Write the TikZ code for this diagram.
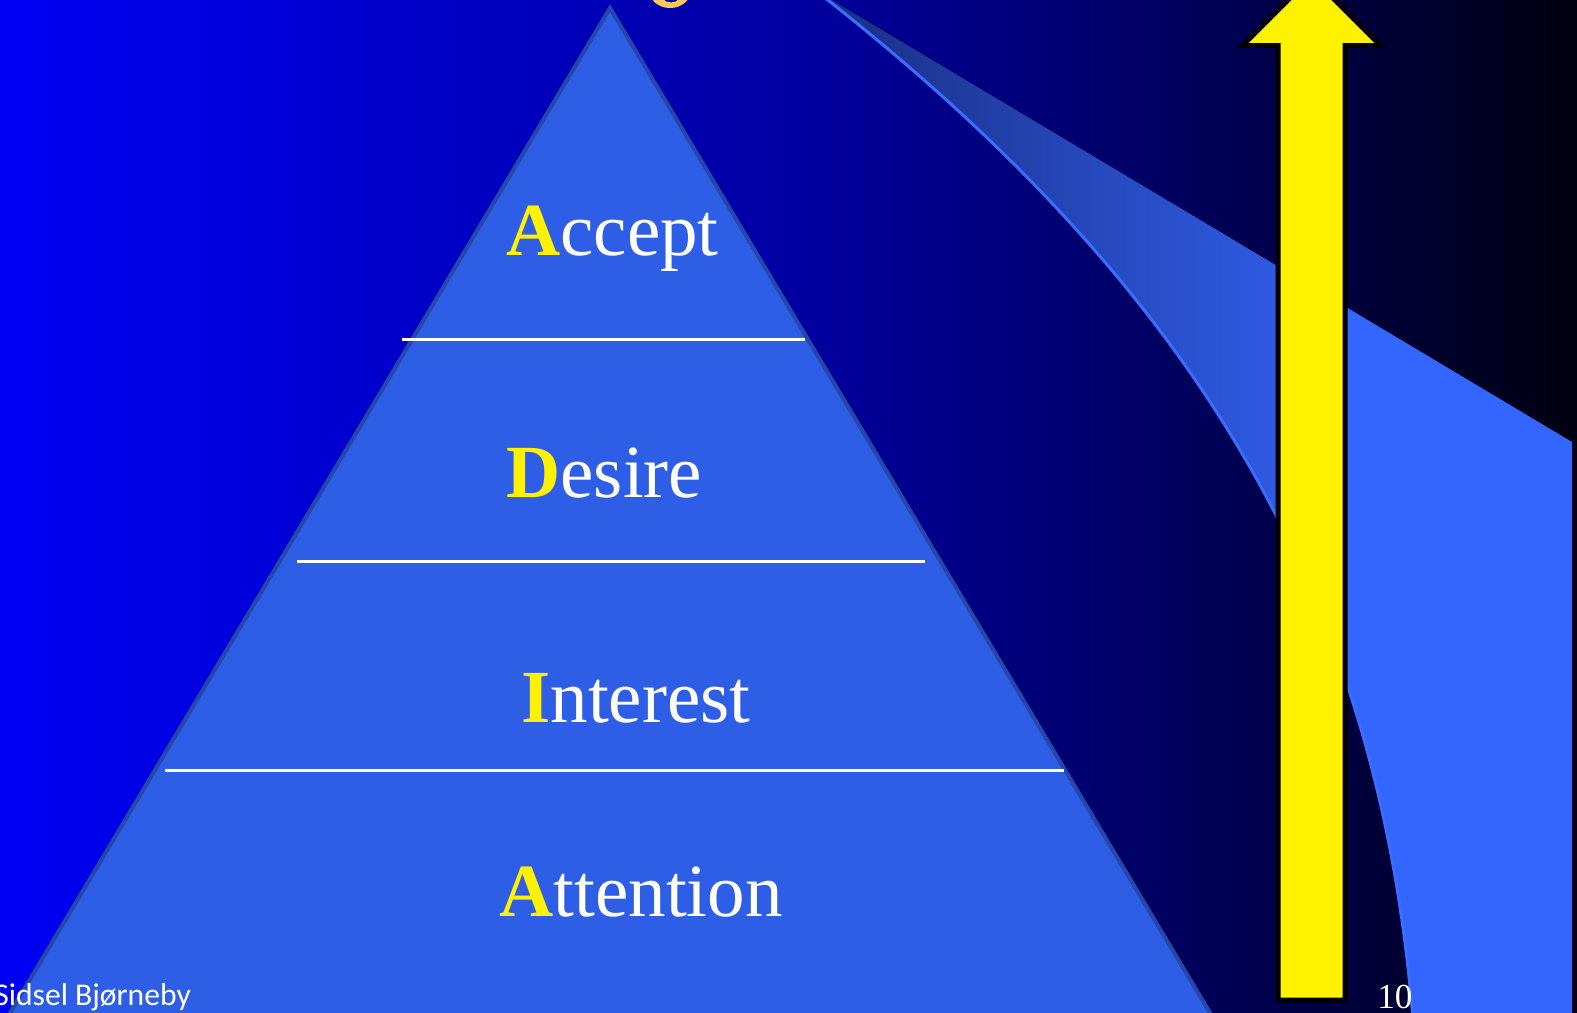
\documentclass[tikz,border=0pt]{standalone}
\usepackage{fontspec}
\setmainfont{Liberation Serif}
\newfontfamily\handfont{Carlito}
\definecolor{pyramidblue}{RGB}{46,94,230}
\definecolor{pyramidedge}{RGB}{36,72,170}
\definecolor{ribbonedge}{RGB}{58,108,255}
\definecolor{titleorange}{RGB}{255,200,88}
\pgfdeclarehorizontalshading{bgshade}{100bp}{rgb(0bp)=(0,0,.96); rgb(25bp)=(0,0,.96); rgb(50.4bp)=(0,0,.63); rgb(61.5bp)=(0,0,.39); rgb(75bp)=(0,0,.06); rgb(100bp)=(0,0,.06)}
\pgfdeclarehorizontalshading{ribbonshade}{100bp}{rgb(0bp)=(.1,.18,.51); rgb(25bp)=(.1,.18,.51); rgb(55bp)=(.18,.35,.88); rgb(59.7bp)=(.2,.4,1); rgb(75bp)=(.2,.4,1); rgb(100bp)=(.2,.4,1)}
\tikzstyle{stagetext}=[anchor=base west, inner sep=0pt, text=white, font=\fontsize{42.7pt}{50pt}\selectfont]
\tikzstyle{divider}=[draw=white, line width=0.06cm]
\tikzstyle{bigarrow}=[fill=yellow, draw=black, line width=0.1cm, line join=miter]
\tikzstyle{smalltext}=[anchor=base west, inner sep=0pt, text=white]

\begin{document}
\begin{tikzpicture}[x=0.02cm, y=-0.02cm]

    \useasboundingbox (0,0) rectangle (1577,1012);
    \fill[shading=bgshade] (0,0) rectangle (1577,1012);

    % swoosh on the right
    \coordinate (swtop) at (815,-10);
    \coordinate (swbot) at (1413,1020);
    \fill[shading=ribbonshade] (swtop) -- (1572,442) -- (1572,1020) -- (swbot) .. controls (1379,599) and (1200,290) .. (swtop) -- cycle;
    \draw[ribbonedge, line width=0.06cm] (swtop) .. controls (1200,290) and (1379,599) .. (swbot);

    % bit of the title letter
    \fill[titleorange, even odd rule] (670,-10) ellipse [x radius=21, y radius=18] (671,-10) ellipse [x radius=12, y radius=12.5];

    % pyramid
    \coordinate (apex) at (610,8);
    \coordinate (baseL) at (-11,1048);
    \coordinate (baseR) at (1231,1048);
    \filldraw[fill=pyramidblue, draw=pyramidedge, line width=0.08cm, line join=miter] (apex) -- (baseR) -- (baseL) -- cycle;

    \foreach \y/\xa/\xb in {339/402/805, 561/297/925, 770/165/1064}
        \draw[divider] (\xa,\y) -- (\xb,\y);

    \foreach \x/\y/\first/\rest/\name in {506/255/A/ccept/accept, 506/497/D/esire/desire, 521/722/I/nterest/interest, 499/916/A/ttention/attention}
        \node[stagetext] (\name) at (\x,\y) {\textcolor{yellow}{\textbf{\first}}\rest};

    % yellow arrow
    \draw[bigarrow] (1278,1000) -- (1278,45.5) -- (1242.5,45.5) -- (1311.5,-23.5) -- (1380.5,45.5) -- (1345,45.5) -- (1345,1000) -- cycle;

    \node[smalltext, font=\fontsize{20pt}{24pt}\selectfont] (pagenum) at (1377,1008) {10};
    \node[smalltext, font=\handfont\fontsize{18pt}{22pt}\selectfont] (author) at (-6,1005) {Sidsel Bjørneby};

\end{tikzpicture}
\end{document}
